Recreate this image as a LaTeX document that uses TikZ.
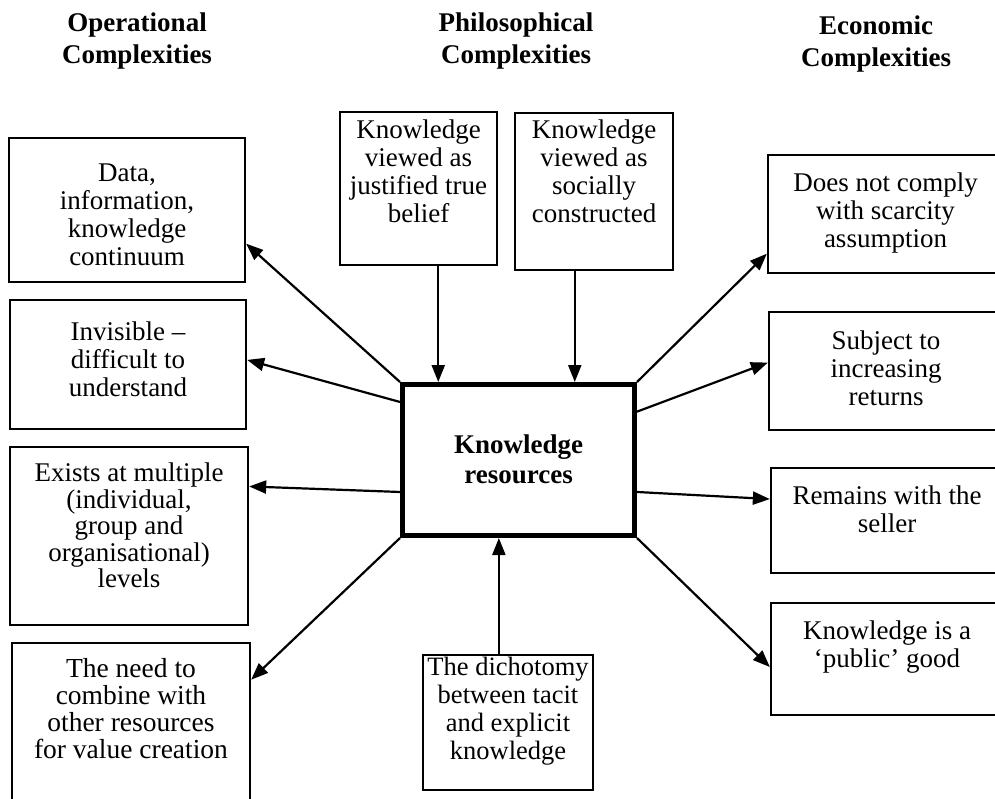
\documentclass[tikz,border=0pt]{standalone}
\usepackage{fontspec}
\setmainfont{Liberation Serif}
\usetikzlibrary{arrows.meta,calc}

\begin{document}
\begin{tikzpicture}[x=1pt,y=-1pt,
  frame/.style={draw, line width=2.3pt, inner sep=0pt},
  core/.style={draw, line width=5pt, inner sep=0pt},
  txt/.style={anchor=north, align=center, inner sep=0pt,
    font=\fontsize{27}{28}\selectfont},
  head/.style={anchor=north, align=center, inner sep=0pt,
    font=\bfseries\fontsize{27}{31.5}\selectfont},
  arr/.style={line width=2.2pt, -{Triangle[length=17pt,width=13pt]}}
]
\useasboundingbox (0,0) rectangle (995,798);
\clip (0,0) rectangle (995,798);

% column headings
\node[head] (h1) at (137,13) {Operational\\Complexities};
\node[head] (h2) at (516,13) {Philosophical\\Complexities};
\node[head] (h3) at (876,16) {Economic\\Complexities};

% central resource
\node[core, minimum width=232pt, minimum height=151pt] (C) at (518.5,460) {};
\node[anchor=north, align=center, inner sep=0pt,
  font=\bfseries\fontsize{27}{30}\selectfont] (Ct) at ([yshift=-53pt]C.north) {Knowledge\\resources};

% operational complexities
\node[frame, minimum width=236pt, minimum height=144pt] (L1) at (127,210) {};
\node[txt] (L1t) at ([yshift=-27pt]L1.north) {Data,\\information,\\knowledge\\continuum};
\node[frame, minimum width=236pt, minimum height=129pt] (L2) at (128,364.5) {};
\node[txt] (L2t) at ([yshift=-23pt]L2.north) {Invisible –\\difficult to\\understand};
\node[frame, minimum width=238pt, minimum height=178pt] (L3) at (129,536) {};
\node[txt, font=\fontsize{27}{26.5}\selectfont] (L3t) at ([yshift=-17pt]L3.north)
  {Exists at multiple\\(individual,\\group and\\organisational)\\levels};
\node[frame, minimum width=238pt, minimum height=187pt] (L4) at (131,736.5) {};
\node[txt, font=\fontsize{27.5}{27}\selectfont] (L4t) at ([yshift=-16pt]L4.north)
  {The need to\\combine with\\other resources\\for value creation};

% philosophical complexities
\node[frame, minimum width=157pt, minimum height=153pt] (T1) at (418.5,188.5) {};
\node[txt] (T1t) at ([yshift=-9pt]T1.north) {Knowledge\\viewed as\\justified true\\belief};
\node[frame, minimum width=158pt, minimum height=157pt] (T2) at (594,191.5) {};
\node[txt] (T2t) at ([yshift=-8pt]T2.north) {Knowledge\\viewed as\\socially\\constructed};
\node[frame, minimum width=170pt, minimum height=135pt] (B) at (508,722.5) {};
\node[txt, font=\fontsize{26.5}{28}\selectfont] (Bt) at ([yshift=-3pt]B.north)
  {The dichotomy\\between tacit\\and explicit\\knowledge};

% economic complexities
\node[frame, minimum width=235pt, minimum height=118pt] (R1) at (885.5,214) {};
\node[txt] (R1t) at ([yshift=-19pt]R1.north) {Does not comply\\with scarcity\\assumption};
\node[frame, minimum width=234pt, minimum height=118pt] (R2) at (886,371) {};
\node[txt] (R2t) at ([yshift=-20pt]R2.north) {Subject to\\increasing\\returns};
\node[frame, minimum width=232pt, minimum height=105pt] (R3) at (887,520.5) {};
\node[txt] (R3t) at ([yshift=-19pt]R3.north) {Remains with the\\seller};
\node[frame, minimum width=232pt, minimum height=112pt] (R4) at (887,659) {};
\node[txt] (R4t) at ([yshift=-19pt]R4.north) {Knowledge is a\\‘public’ good};

% connector end points
\coordinate (t1) at ($(T1.south west)!0.624!(T1.south east)$);
\coordinate (t2) at ($(T2.south west)!0.38!(T2.south east)$);
\coordinate (b1) at ($(B.north west)!0.447!(B.north east)$);

% connectors
\draw[arr] (C.north west) -- ($(L1.north east)!0.73!(L1.south east)$);
\draw[arr] ($(C.north west)!0.128!(C.south west)$) -- ($(L2.north east)!0.465!(L2.south east)$);
\draw[arr] ($(C.north west)!0.705!(C.south west)$) -- ($(L3.north east)!0.225!(L3.south east)$);
\draw[arr] (C.south west) -- ($(L4.north east)!0.2!(L4.south east)$);
\draw[arr] (C.north east) -- ($(R1.north west)!0.83!(R1.south west)$);
\draw[arr] ($(C.north east)!0.19!(C.south east)$) -- ($(R2.north west)!0.43!(R2.south west)$);
\draw[arr] ($(C.north east)!0.705!(C.south east)$) -- ($(R3.north west)!0.30!(R3.south west)$);
\draw[arr] (C.south east) -- ($(R4.north west)!0.57!(R4.south west)$);
\draw[arr] (t1) -- (t1 |- C.north);
\draw[arr] (t2) -- (t2 |- C.north);
\draw[arr] (b1) -- (b1 |- C.south);
\end{tikzpicture}
\end{document}
